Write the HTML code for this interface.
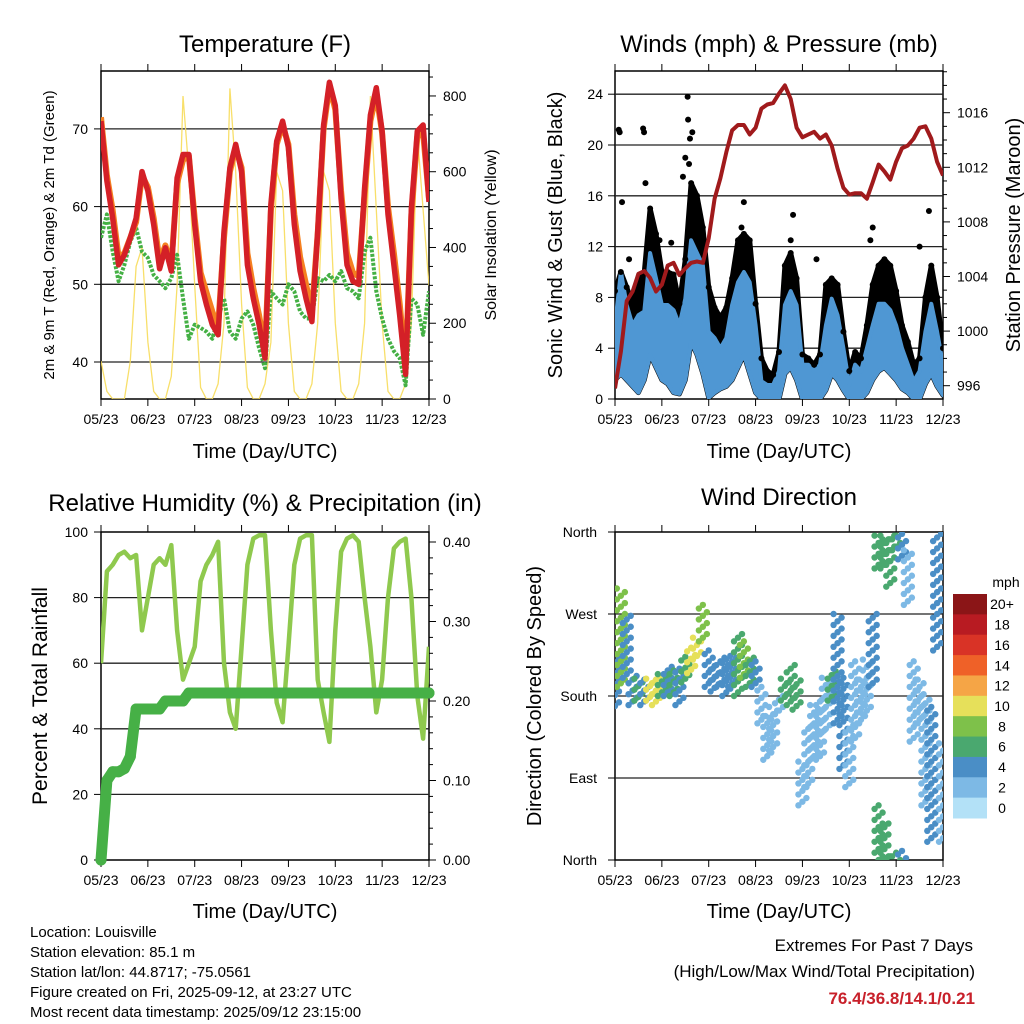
<!DOCTYPE html>
<html><head><meta charset="utf-8"><style>
html,body{margin:0;padding:0;background:#fff}
svg{display:block;font-family:"Liberation Sans",Arial,sans-serif}
</style></head><body>
<svg id="c" width="1024" height="1024" viewBox="0 0 1024 1024" xmlns="http://www.w3.org/2000/svg">
<defs>
<clipPath id="cp1"><rect x="101" y="71" width="328" height="328"/></clipPath>
<clipPath id="cp2"><rect x="615" y="71" width="328" height="328"/></clipPath>
<clipPath id="cp3"><rect x="101" y="532" width="328" height="328"/></clipPath>
<clipPath id="cp4"><rect x="615" y="532" width="328" height="328"/></clipPath>
</defs>
<g id="root"></g>
<text x="265" y="52" font-size="24" text-anchor="middle">Temperature (F)</text>
<text x="779" y="52" font-size="24" text-anchor="middle">Winds (mph) &amp; Pressure (mb)</text>
<text x="265" y="511" font-size="24" text-anchor="middle">Relative Humidity (%) &amp; Precipitation (in)</text>
<text x="779" y="505" font-size="24" text-anchor="middle">Wind Direction</text>
<text x="265" y="458" font-size="20" text-anchor="middle">Time (Day/UTC)</text>
<text x="779" y="458" font-size="20" text-anchor="middle">Time (Day/UTC)</text>
<text x="265" y="918" font-size="20" text-anchor="middle">Time (Day/UTC)</text>
<text x="779" y="918" font-size="20" text-anchor="middle">Time (Day/UTC)</text>
<text transform="translate(54,235) rotate(-90)" font-size="15" text-anchor="middle">2m &amp; 9m T (Red, Orange) &amp; 2m Td (Green)</text>
<text transform="translate(496,235) rotate(-90)" font-size="16" text-anchor="middle">Solar Insolation (Yellow)</text>
<text transform="translate(562,235) rotate(-90)" font-size="20" text-anchor="middle">Sonic Wind &amp; Gust (Blue, Black)</text>
<text transform="translate(1020,235) rotate(-90)" font-size="20" text-anchor="middle">Station Pressure (Maroon)</text>
<text transform="translate(47,696) rotate(-90)" font-size="21" text-anchor="middle">Percent &amp; Total Rainfall</text>
<text transform="translate(541,696) rotate(-90)" font-size="20" text-anchor="middle">Direction (Colored By Speed)</text>
<g font-size="15">
<text x="30" y="937">Location: Louisville</text>
<text x="30" y="957">Station elevation: 85.1 m</text>
<text x="30" y="977">Station lat/lon: 44.8717; -75.0561</text>
<text x="30" y="997">Figure created on Fri, 2025-09-12, at 23:27 UTC</text>
<text x="30" y="1017">Most recent data timestamp: 2025/09/12 23:15:00</text>
</g>
<text x="973" y="951" font-size="17" text-anchor="end">Extremes For Past 7 Days</text>
<text x="975" y="977" font-size="17" text-anchor="end">(High/Low/Max Wind/Total Precipitation)</text>
<text x="975" y="1004" font-size="17" font-weight="bold" fill="#c8202a" text-anchor="end">76.4/36.8/14.1/0.21</text>
</svg>
<script>
const dayLabels=["05/23","06/23","07/23","08/23","09/23","10/23","11/23","12/23"];
const tempT=[71,63.3,58.5,52.5,53.8,56,58.5,64.5, 62,57.7,52,54.7,51.7,63.7,66.7,66.7, 57.7,50.4,47.4,44.8,43.5,56.8,65,68, 64.5,52.5,48.2,44.8,40.5,60.3,68.4,71, 67.6,57.7,51.7,48.2,45.2,56.8,70.5,76, 73,61,52.5,50.4,50,62.4,71.8,75.3, 69.7,59,52.5,46,38.4,59.8,69.7,70.5,60.6];
const tempT9=[71.5,64,59.5,53.5,54,56,58,64, 62.5,58.5,53,55,52.5,63,66,66.5, 58.5,51.5,49,46.5,44.5,56,64.5,67.5, 65,54,49.5,46,41.5,59.5,68,70.5, 68,59,53.5,50,46.5,56.5,70,75.5, 72.5,62,54,51.5,51,61.5,71,74.5, 69.5,60,54,47.5,39.5,59,69,69.5,61];
const dewT=[56,59,54.2,50.4,52.5,55.5,57.3,54.2, 53.4,51.2,50.4,49.5,50.8,53.8,48.2,43, 44.8,44.4,43.9,43,45.6,48.2,43.9,43, 45.6,46.5,44.8,41.8,39.2,49.1,48.2,47.4, 50,49.1,46.5,45.6,45.6,50.8,50.4,51.2, 50.4,51.7,49.5,49.1,48.2,54.2,56,49.1, 45.6,43,41.4,40.5,37,48.2,47.4,43.5,49.1];
const solar=[100,20,0,0,0,100,350,400, 150,20,0,0,60,300,800,600, 300,30,0,0,40,200,820,600, 250,30,0,0,40,150,600,550, 200,20,0,0,40,200,600,550, 200,20,0,0,40,200,800,500, 200,20,0,0,40,200,700,500, 300];
const pressure=[995.8,998.5,1002.2,1002.9,1004.2,1004.4,1003.9,1002.9, 1003.4,1004.8,1005,1004.1,1004.6,1005,1005.1,1005, 1006.8,1009.7,1011.2,1013.1,1014.7,1015.1,1015.1,1014.4, 1014.9,1016.3,1016.6,1016.7,1017.4,1018,1017,1014.9, 1014.2,1014.4,1014.6,1014.1,1014.4,1013.6,1011.9,1010.5, 1010,1010.1,1010.1,1009.7,1010.9,1012.2,1011.7,1011.1, 1012.4,1013.4,1013.6,1014.1,1014.9,1015,1014.1,1012.4, 1011.4];
const windHi=[5.8,10,7.4,5.8,6.6,6.9,11.5,9.5, 7.4,7.4,7,5.8,7.9,12.5,11.5,10.5, 5.3,4.8,4,4.8,7.4,9.2,10,9.2, 5.8,1.4,1.1,1.1,2.2,7.4,8.5,7.4, 2.7,2.7,2.2,2.7,5.8,7.9,6.6,4, 1.1,2.7,2.2,4,5.8,7.5,7.5,7, 5.8,4,2.7,1.4,2.2,5.3,7.5,5.3,2.7];
const windLo=[1.5,2,1.5,1,0.5,1.5,3.5,2.5, 1.5,1.2,0.5,0.4,1.5,4.5,3.5,2, 0.1,0.5,0.8,1,1.5,2.5,3.5,2, 0.5,0,0,0,0,2,2.5,1.5, 0,0.1,0,0,0.7,2,1.5,0.7, 0,0,0,0.5,1.5,2.2,2.5,2, 1.5,0.8,0.5,0,0,1.2,2,1,0.3];
const gust=[8.5,10,8.8,7.5,9.5,10,15,13, 10,10,9.8,7.5,11,17,16,13.5, 8.8,7.2,6.4,7.2,9.5,12.5,13,12.5, 7.5,3.2,2.2,1.9,3.7,10.5,11.5,9.5, 3.5,3.2,2.7,3.5,9,9.5,9,5.3, 2.2,3.7,3.2,5.8,9,10.5,11,10.5, 8.5,5.8,4.5,2.7,3.2,8,10.5,8,4];
const gustOutDay=[0.08,0.1,0.15,0.6,0.62,0.95,1.55,1.56,1.6,1.65,1.5,2.75,3.8,4.3,5.5,6.7,6.5,0.3,1.2,1.45,1.58,0.65,2.7,3.75,5.45];
const gustOutVal=[21.2,21,15.5,21.3,21,12.5,23.8,22,20.5,21,19,15.5,14.5,11,13.5,14.8,12,11,12.3,17.5,18.5,17,13.5,12.5,12.5];
const rh=[60,88,90,93,94,92,93,70, 80,90,92,90,96,70,55,60, 65,85,90,93,97,60,45,40, 65,90,98,99,99,70,48,42, 65,90,98,99,99,55,45,36, 70,94,98,99,97,80,65,45, 55,80,95,97,98,80,50,37, 65];
const precip=[0,0.1,0.111,0.111,0.115,0.13,0.19,0.19,0.19,0.19,0.19,0.2,0.2,0.2,0.2,0.21,0.21,0.21,0.21,0.21,0.21,0.21,0.21,0.21,0.21,0.21,0.21,0.21,0.21,0.21,0.21,0.21,0.21,0.21,0.21,0.21,0.21,0.21,0.21,0.21,0.21,0.21,0.21,0.21,0.21,0.21,0.21,0.21,0.21,0.21,0.21,0.21,0.21,0.21,0.21,0.21,0.21];
const dirLo=[165,190,200,170,175,170,175,170, 180,180,180,170,195,205,220,240, 190,185,190,180,190,180,200,190, 190,150,110,120,160,175,170,165, 60,80,110,110,140,175,150,100, 80,130,150,160,190,320,320,300, 340,330,280,130,150,60,20,230,20];
const dirHi=[225,300,270,205,200,200,200,205, 205,215,210,210,225,235,245,280, 230,215,225,225,225,250,240,225, 220,190,160,170,180,200,215,200, 110,150,170,180,200,210,270,200, 150,220,200,220,270,420,400,365, 370,370,340,220,200,180,170,360,130];
const dirSpd=[4,7,4,4,5,4,10,9, 6,4,5,4,6,9,10,7, 4,3,4,4,4,6,7,6, 4,2,1,1,2,6,6,5, 1,2,1,2,2,6,4,3, 1,1,2,2,3,5,6,5, 5,4,2,1,1,2,3,4,2];
const spdLabels=["0","2","4","6","8","10","12","14","16","18","20+"];
const spdColors=["#b3e1f7","#7db9e5","#4a8ec6","#4aa86f","#7ec14a","#e6e05a","#f5a546","#ef6128","#d93326","#b81b22","#8b1517"];

const NS="http://www.w3.org/2000/svg";
const root=document.getElementById('root');
function mk(tag,attrs,parent){const e=document.createElementNS(NS,tag);for(const k in attrs)e.setAttribute(k,attrs[k]);(parent||root).appendChild(e);return e;}
const DAYPX=328/7, STEP=1/8;
const xT=d=>101+d*DAYPX, xW=d=>615+d*DAYPX;
const yT=t=>362-(t-40)*7.77, ySol=s=>399-s*0.3788;
const yW=s=>399-s*12.7, yP=p=>385.7-(p-996)*13.65;
const yR=r=>860-r*3.28, yPr=p=>860-p*795;
const yD=d=>860-d*(328/360);
function path(arr,xf,yf){return arr.map((v,i)=>(i?'L':'M')+xf(i*STEP).toFixed(1)+','+yf(v).toFixed(1)).join('');}

function frame(x0,y0,name){
  const g=mk('g',{});
  
  
  mk('rect',{x:x0,y:y0,width:328,height:328,fill:'none',stroke:'#000','stroke-width':1.5},g);
  for(let i=0;i<8;i++){
    const x=x0+i*DAYPX;
    mk('line',{x1:x,x2:x,y1:y0+328,y2:y0+335,stroke:'#000','stroke-width':1},g);
    mk('line',{x1:x,x2:x,y1:y0,y2:y0-7,stroke:'#000','stroke-width':1},g);
    const t=mk('text',{x:x,y:y0+353,'font-size':14,'text-anchor':'middle'},g);
    t.textContent=dayLabels[i];
    
    
  }
  return g;
}
function hgrid(g,x0,y,label,lx){
  mk('line',{x1:x0,x2:x0+328,y1:y,y2:y,stroke:'#222','stroke-width':1.3},g);
  mk('line',{x1:x0-7,x2:x0,y1:y,y2:y,stroke:'#000','stroke-width':1},g);
  const t=mk('text',{x:lx,y:y+5,'font-size':14,'text-anchor':'end'},g);
  t.textContent=label;
  
  
}
function rtick(g,x,y,len,label){
  mk('line',{x1:x,x2:x+len,y1:y,y2:y,stroke:'#000','stroke-width':1},g);
  if(label!==null){const t=mk('text',{x:x+14,y:y+5,'font-size':14},g);t.textContent=label;
  
  }
}

/* Panel 1 temperature */
const g1=frame(101,71,'temperature-panel');
[40,50,60,70].forEach(v=>hgrid(g1,101,yT(v),String(v),88));
for(let s=0;s<=850;s+=50) rtick(g1,429,ySol(s),s%200===0?7:4,s%200===0?String(s):null);
const c1=mk('g',{'clip-path':'url(#cp1)'});
let e;
e=mk('path',{d:path(solar,xT,ySol),fill:'none',stroke:'#f7dc5a','stroke-width':1.3,opacity:0.9},c1);


e=mk('path',{d:path(dewT,xT,yT),fill:'none',stroke:'#44b044','stroke-width':4,'stroke-dasharray':'3 1.5','stroke-linejoin':'round'},c1);


e=mk('path',{d:path(tempT9,xT,yT),fill:'none',stroke:'#f58020','stroke-width':6,'stroke-linejoin':'round'},c1);


e=mk('path',{d:path(tempT,xT,yT),fill:'none',stroke:'#d42027','stroke-width':5.5,'stroke-linejoin':'round'},c1);



/* Panel 2 winds */
const g2=frame(615,71,'winds-panel');
[4,8,12,16,20,24].forEach(v=>hgrid(g2,615,yW(v),String(v),603));
mk('line',{x1:608,x2:615,y1:399,y2:399,stroke:'#000'},g2);
e=mk('text',{x:603,y:404,'font-size':14,'text-anchor':'end'},g2);e.textContent='0';


for(let p=996;p<=1019;p+=1) rtick(g2,943,yP(p),p%4===0?7:4,p%4===0?String(p):null);
const c2=mk('g',{'clip-path':'url(#cp2)'});
function band(hi,lo,xf,yf){let d='';hi.forEach((v,i)=>{d+=(i?'L':'M')+xf(i*STEP).toFixed(1)+','+yf(v).toFixed(1);});for(let i=lo.length-1;i>=0;i--)d+='L'+xf(i*STEP).toFixed(1)+','+yf(lo[i]).toFixed(1);return d+'Z';}
e=mk('path',{d:band(gust,windLo,xW,yW),fill:'#000',stroke:'#000','stroke-width':5,'stroke-linejoin':'round'},c2);


e=mk('path',{d:band(windHi,windLo,xW,yW),fill:'#4f97d3',stroke:'#4f97d3','stroke-width':4,'stroke-linejoin':'round'},c2);


gust.forEach((v,i)=>{const c=mk('circle',{cx:xW(i*STEP),cy:yW(v),r:3},c2);

});
gustOutDay.forEach((d,i)=>{const c=mk('circle',{cx:xW(d),cy:yW(gustOutVal[i]),r:3},c2);

});
e=mk('path',{d:path(pressure,xW,yP),fill:'none',stroke:'#a01a1c','stroke-width':4,'stroke-linejoin':'round'},c2);



/* Panel 3 RH */
const g3=frame(101,532,'humidity-panel');
[20,40,60,80].forEach(v=>hgrid(g3,101,yR(v),String(v),88));
[0,100].forEach(v=>{mk('line',{x1:94,x2:101,y1:yR(v),y2:yR(v),stroke:'#000'},g3);const t=mk('text',{x:88,y:yR(v)+5,'font-size':14,'text-anchor':'end'},g3);t.textContent=String(v);

});
for(let k=0;k<=20;k++){const p=k*0.02;rtick(g3,429,yPr(p),k%5===0?7:4,k%5===0?p.toFixed(2):null);}
const c3=mk('g',{'clip-path':'url(#cp3)'});
e=mk('path',{d:path(rh,xT,yR),fill:'none',stroke:'#8fc94e','stroke-width':4.5,'stroke-linejoin':'round'},c3);


const g3b=mk('g',{});
e=mk('path',{d:path(precip,xT,yPr),fill:'none',stroke:'#46b046','stroke-width':11,'stroke-linecap':'round','stroke-linejoin':'round'},g3b);


precip.forEach((v,i)=>{const c=mk('circle',{cx:xT(i*STEP),cy:yPr(v),r:5.5,fill:'#46b046'},g3b);

});

/* Panel 4 direction */
const g4=frame(615,532,'wind-direction-panel');
const dirTicks=[[0,'North'],[90,'East'],[180,'South'],[270,'West'],[360,'North']];
dirTicks.forEach(([v,l])=>{if(v>0&&v<360)hgrid(g4,615,yD(v),l,597);else{mk('line',{x1:608,x2:615,y1:yD(v),y2:yD(v),stroke:'#000'},g4);const t=mk('text',{x:597,y:yD(v)+5,'font-size':14,'text-anchor':'end'},g4);t.textContent=l;

}});
const c4=mk('g',{'clip-path':'url(#cp4)'});
dirLo.forEach((lo,i)=>{
  const col=spdColors[Math.min(10,Math.round(dirSpd[i]/2))];
  const x=xW(i*STEP);
  let n=0;
  for(let d=lo;d<=dirHi[i];d+=4){
    const dd=((d%360)+360)%360;
    const off=[-4,0,4][n%3];
    const c=mk('circle',{cx:x+off,cy:yD(dd),r:3.2,fill:col},c4);
    
    
    n++;
  }
});
/* colorbar */
const cb=mk('g',{});


const cbTop=594, cbH=224/11;
for(let k=0;k<11;k++){
  const idx=10-k;
  mk('rect',{x:953,y:cbTop+k*cbH,width:34,height:cbH+0.5,fill:spdColors[idx]},cb);
  const t=mk('text',{x:1002,y:cbTop+k*cbH+cbH/2+5,'font-size':14,'text-anchor':'middle'},cb);
  t.textContent=spdLabels[idx];
  
  
}
e=mk('text',{x:1006,y:587,'font-size':14,'text-anchor':'middle'},cb);e.textContent='mph';


</script>
</body></html>
